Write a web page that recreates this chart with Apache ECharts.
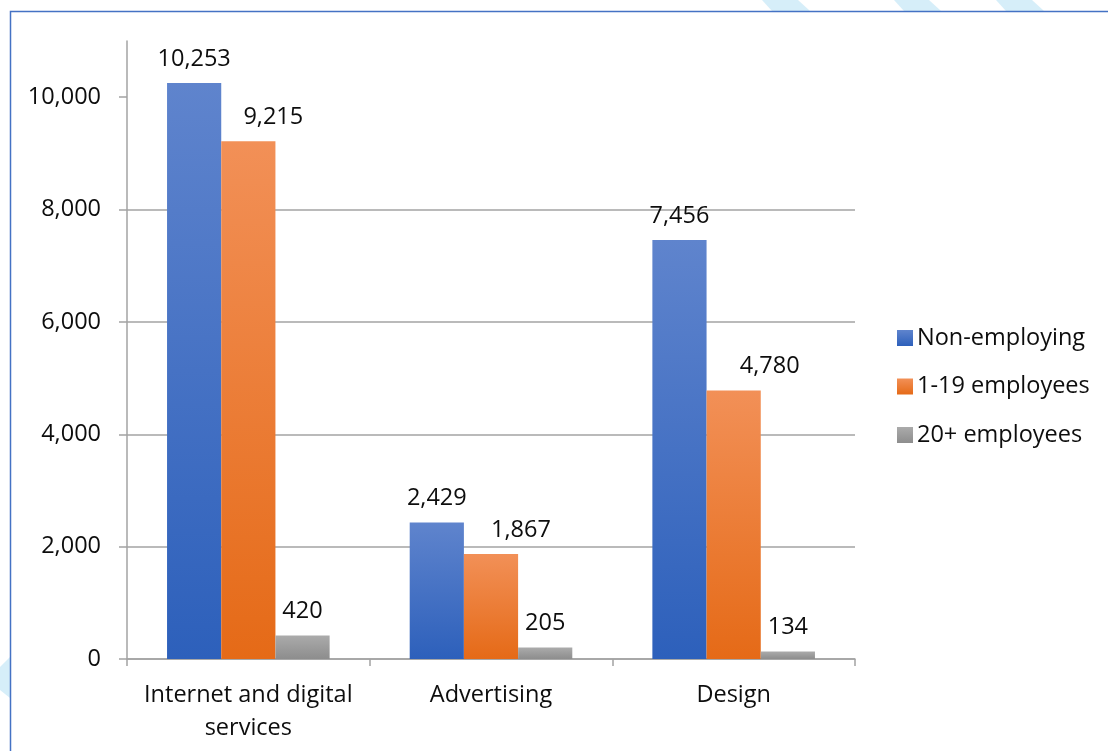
<!DOCTYPE html>
<html>
<head>
<meta charset="utf-8">
<script src="https://cdn.jsdelivr.net/npm/echarts@6/dist/echarts.min.js"></script>
<style>
  html, body { margin: 0; padding: 0; background: #ffffff; }
  #chart { width: 1108px; height: 751px; }
</style>
</head>
<body>
<div id="chart"></div>
<script>
// Businesses by sector and employment size
const categories = ['Internet and digital\nservices', 'Advertising', 'Design'];
const seriesNames = ['Non-employing', '1-19 employees', '20+ employees'];
const nonEmploying = [10253, 2429, 7456];
const smallEmployers = [9215, 1867, 4780];
const largeEmployers = [420, 205, 134];
const yTicks = [0, 2000, 4000, 6000, 8000, 10000];

const FONT = '"Open Sans", "Noto Sans", sans-serif';
const TEXT = '#0d0d0d';
const GRID = '#a3a3a3';
const FS = 23.5;

function grad(top, bottom) {
  return new echarts.graphic.LinearGradient(0, 0, 0, 1, [
    { offset: 0, color: top },
    { offset: 1, color: bottom }
  ]);
}
const fills = [
  grad('#5f84cd', '#2d60bb'),
  grad('#f29057', '#e56a17'),
  grad('#ababab', '#8d8d8d')
];

const fmt = v => v.toLocaleString('en-US');

// labels of the middle series are nudged right so they clear their neighbours
function barSeries(name, data, idx, nudges) {
  return {
    name: name,
    type: 'bar',
    data: data.map((v, i) => nudges
      ? { value: v, label: { offset: [nudges[i], 0] } }
      : v),
    barGap: '0%',
    barCategoryGap: '33%',
    itemStyle: { color: fills[idx] },
    label: {
      show: true,
      position: 'top',
      distance: 12,
      color: TEXT,
      fontFamily: FONT,
      fontSize: FS,
      formatter: p => fmt(p.value)
    }
  };
}

const chart = echarts.init(document.getElementById('chart'), null, { renderer: 'canvas' });

chart.setOption({
  backgroundColor: '#ffffff',
  animation: false,
  graphic: [
    // light blue backdrop stripes around the frame
    { type: 'polygon', silent: true, z: -1, shape: { points: [[762, 0], [798, 0], [810, 11], [772, 11]] }, style: { fill: '#d6eef9' } },
    { type: 'polygon', silent: true, z: -1, shape: { points: [[894, 0], [929, 0], [941, 11], [904, 11]] }, style: { fill: '#d6eef9' } },
    { type: 'polygon', silent: true, z: -1, shape: { points: [[996, 0], [1032, 0], [1044, 11], [1006, 11]] }, style: { fill: '#d6eef9' } },
    { type: 'polygon', silent: true, z: -1, shape: { points: [[0, 667], [10, 657], [10, 698], [0, 690]] }, style: { fill: '#d6eef9' } },
    // frame
    { type: 'rect', silent: true, z: 0, shape: { x: 10.5, y: 11.5, width: 1200, height: 800 }, style: { fill: null, stroke: '#4472c4', lineWidth: 1.5 } }
  ],
  legend: {
    orient: 'vertical',
    left: 892,
    top: 321,
    itemWidth: 16,
    itemHeight: 16,
    itemGap: 24.5,
    icon: 'rect',
    data: seriesNames,
    textStyle: { color: TEXT, fontFamily: FONT, fontSize: FS, lineHeight: 22, padding: [0, 0, 0, -1] }
  },
  grid: { left: 127, right: 253, top: 41, bottom: 92, containLabel: false },
  xAxis: {
    type: 'category',
    data: categories,
    axisLine: { show: true, lineStyle: { color: GRID, width: 1.5 } },
    axisTick: { show: true, length: 7, lineStyle: { color: GRID, width: 1.5 } },
    axisLabel: { color: TEXT, fontFamily: FONT, fontSize: FS, lineHeight: 33, margin: 20, interval: 0 }
  },
  yAxis: {
    type: 'value',
    min: 0,
    max: 11000,
    interval: 2000,
    axisLine: { show: true, lineStyle: { color: GRID, width: 1.5 } },
    axisTick: { show: true, length: 8, customValues: yTicks, lineStyle: { color: GRID, width: 1.5 } },
    axisLabel: { color: TEXT, fontFamily: FONT, fontSize: FS, margin: 26, customValues: yTicks, formatter: v => fmt(v) },
    splitLine: { show: true, showMaxLine: false, lineStyle: { color: GRID, width: 1.5 } }
  },
  series: [
    barSeries(seriesNames[0], nonEmploying, 0),
    barSeries(seriesNames[1], smallEmployers, 1, [25, 30, 36]),
    barSeries(seriesNames[2], largeEmployers, 2)
  ]
});
</script>
</body>
</html>
